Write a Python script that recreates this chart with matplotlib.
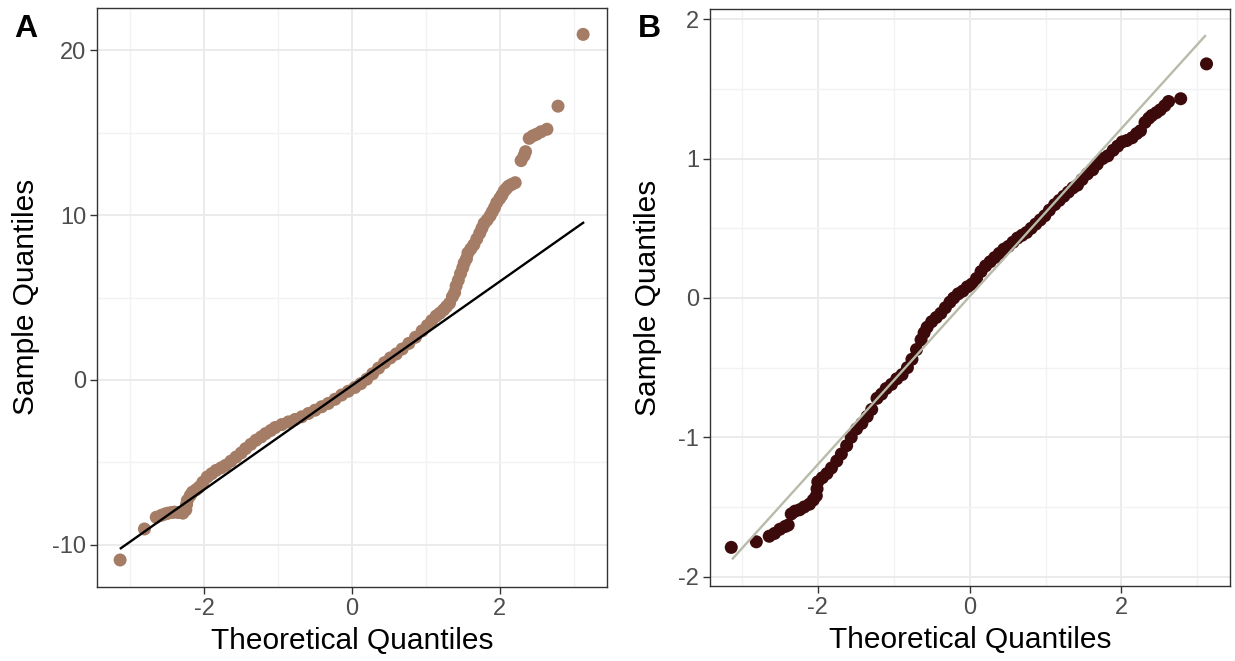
import matplotlib
matplotlib.use('Agg')
import matplotlib.pyplot as plt

plt.rcParams['font.family'] = ['Liberation Sans', 'DejaVu Sans']

# panel A: theoretical vs sample quantiles
a_theo = [-3.14, -2.81, -2.65, -2.58, -2.53, -2.49, -2.44, -2.40, -2.35, -2.29,
          -2.25, -2.24, -2.23, -2.19, -2.16, -2.11, -2.07, -2.02, -1.96, -1.90,
          -1.84, -1.77, -1.71, -1.64, -1.57, -1.50, -1.44, -1.37, -1.30, -1.23,
          -1.17, -1.10, -1.04, -0.95, -0.86, -0.77, -0.68, -0.59, -0.50, -0.41,
          -0.32, -0.23, -0.14, -0.05, 0.04, 0.12, 0.20, 0.28, 0.36, 0.44,
          0.52, 0.60, 0.68, 0.77, 0.86, 0.95, 1.02, 1.08, 1.14, 1.19,
          1.24, 1.28, 1.32, 1.36, 1.39, 1.41, 1.44, 1.47, 1.50, 1.52,
          1.55, 1.57, 1.61, 1.65, 1.69, 1.73, 1.76, 1.79, 1.83, 1.87,
          1.90, 1.93, 1.96, 2.00, 2.03, 2.06, 2.09, 2.12, 2.16, 2.21,
          2.29, 2.33, 2.35, 2.40, 2.45, 2.50, 2.56, 2.64, 2.79, 3.13]
a_sample = [-10.91, -9.03, -8.32, -8.20, -8.12, -8.07, -8.03, -8.01, -8.03, -8.07,
            -7.87, -7.55, -7.30, -7.00, -6.80, -6.65, -6.50, -6.20, -5.88, -5.68,
            -5.48, -5.32, -5.17, -4.92, -4.67, -4.42, -4.16, -3.90, -3.65, -3.45,
            -3.25, -3.06, -2.88, -2.70, -2.54, -2.39, -2.23, -2.03, -1.83, -1.62,
            -1.42, -1.17, -0.91, -0.68, -0.45, -0.22, 0.05, 0.38, 0.72, 1.05,
            1.34, 1.58, 1.88, 2.22, 2.59, 2.98, 3.30, 3.60, 3.88, 4.05,
            4.25, 4.45, 4.65, 5.05, 5.30, 5.70, 6.05, 6.45, 6.80, 7.10,
            7.35, 7.70, 7.95, 8.20, 8.55, 8.90, 9.20, 9.50, 9.70, 9.95,
            10.20, 10.45, 10.75, 11.00, 11.20, 11.45, 11.60, 11.75, 11.85, 11.96,
            13.30, 13.60, 13.84, 14.65, 14.80, 14.90, 15.05, 15.20, 16.60, 20.95]
a_line_x = [-3.13, 3.13]
a_line_y = [-10.2, 9.53]

# panel B
b_theo = [-3.14, -2.81, -2.64, -2.57, -2.50, -2.43, -2.39, -2.35, -2.30, -2.24,
          -2.18, -2.11, -2.06, -2.02, -2.01, -2.00, -1.94, -1.88, -1.82, -1.75,
          -1.69, -1.62, -1.56, -1.49, -1.42, -1.35, -1.29, -1.22, -1.16, -1.10,
          -1.03, -0.96, -0.89, -0.82, -0.76, -0.70, -0.64, -0.60, -0.56, -0.50,
          -0.44, -0.38, -0.32, -0.26, -0.21, -0.15, -0.09, -0.03, 0.03, 0.09,
          0.15, 0.21, 0.27, 0.33, 0.39, 0.45, 0.51, 0.57, 0.63, 0.69,
          0.75, 0.81, 0.87, 0.93, 0.99, 1.05, 1.12, 1.18, 1.24, 1.30,
          1.36, 1.42, 1.48, 1.55, 1.62, 1.68, 1.75, 1.82, 1.89, 1.95,
          2.01, 2.07, 2.14, 2.20, 2.25, 2.31, 2.36, 2.40, 2.46, 2.51,
          2.57, 2.62, 2.78, 3.12]
b_sample = [-1.79, -1.75, -1.71, -1.69, -1.66, -1.64, -1.63, -1.55, -1.53, -1.52,
            -1.50, -1.48, -1.45, -1.42, -1.37, -1.32, -1.29, -1.26, -1.22, -1.17,
            -1.12, -1.06, -1.00, -0.94, -0.90, -0.85, -0.80, -0.72, -0.69, -0.65,
            -0.62, -0.58, -0.55, -0.50, -0.44, -0.37, -0.30, -0.25, -0.21, -0.17,
            -0.14, -0.11, -0.07, -0.03, 0.00, 0.03, 0.05, 0.08, 0.10, 0.14,
            0.19, 0.23, 0.26, 0.29, 0.32, 0.35, 0.37, 0.40, 0.43, 0.45,
            0.47, 0.50, 0.53, 0.56, 0.59, 0.63, 0.67, 0.70, 0.73, 0.76,
            0.79, 0.81, 0.85, 0.89, 0.92, 0.96, 1.00, 1.02, 1.06, 1.09,
            1.12, 1.13, 1.15, 1.18, 1.20, 1.26, 1.29, 1.31, 1.33, 1.35,
            1.38, 1.41, 1.43, 1.68]
b_line_x = [-3.12, 3.10]
b_line_y = [-1.87, 1.88]

x_major = [-2, 0, 2]
x_minor = [-3, -1, 1, 3]


def style(ax, yt, ymin):
    ax.set_xticks(x_major)
    ax.set_xticks(x_minor, minor=True)
    ax.set_yticks(yt)
    ax.set_yticks(ymin, minor=True)
    ax.set_xticklabels([str(v) for v in x_major])
    ax.set_yticklabels([str(v) for v in yt])
    ax.grid(which='major', color='#EBEBEB', lw=1.4, zorder=0)
    ax.grid(which='minor', color='#F2F2F2', lw=1.0, zorder=0)
    ax.set_axisbelow(True)
    ax.tick_params(which='major', length=5, width=1, color='#333333',
                   labelsize=17, labelcolor='#4D4D4D', pad=3)
    ax.tick_params(which='minor', length=0)
    for s in ax.spines.values():
        s.set_color('#333333')
        s.set_linewidth(1)
    ax.set_xlabel('Theoretical Quantiles', fontsize=21.5, va='center')
    ax.set_ylabel('Sample Quantiles', fontsize=21.5, va='center')


fig = plt.figure(figsize=(12.35, 6.61), dpi=100)

ax1 = fig.add_axes([0.0787, 0.1124, 0.4132, 0.8755])
ax1.scatter(a_theo, a_sample, s=88, color='#A57C65', edgecolors='none', zorder=2)
ax1.plot(a_line_x, a_line_y, color='black', lw=1.7, zorder=3)
ax1.set_xlim(-3.45, 3.46)
ax1.set_ylim(-12.53, 22.55)
style(ax1, [-10, 0, 10, 20], [-5, 5, 15])
ax1.xaxis.set_label_coords(0.5, -0.094)
ax1.yaxis.set_label_coords(-0.1395, 0.5)

ax2 = fig.add_axes([0.5749, 0.1135, 0.4211, 0.8729])
ax2.scatter(b_theo, b_sample, s=88, color='#3C0A0A', edgecolors='none', zorder=2)
ax2.plot(b_line_x, b_line_y, color='#B8BBA9', lw=1.7, zorder=3)
ax2.set_xlim(-3.42, 3.43)
ax2.set_ylim(-2.067, 2.074)
style(ax2, [-2, -1, 0, 1, 2], [-1.5, -0.5, 0.5, 1.5])
ax2.xaxis.set_label_coords(0.5, -0.094)
ax2.yaxis.set_label_coords(-0.119, 0.5)

fig.text(14 / 1235, 1 - 37 / 661, 'A', fontsize=23, fontweight='bold', ha='left', va='baseline')
fig.text(638 / 1235, 1 - 37 / 661, 'B', fontsize=23, fontweight='bold', ha='left', va='baseline')

fig.savefig('out.png', dpi=100)
